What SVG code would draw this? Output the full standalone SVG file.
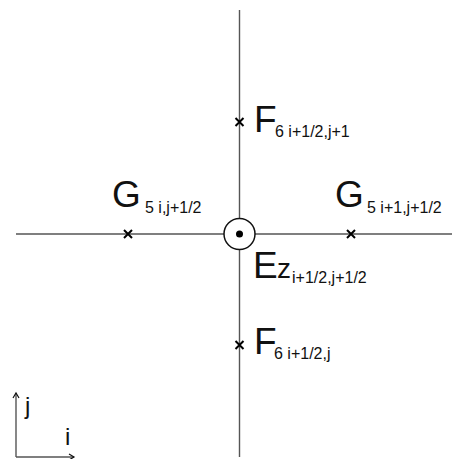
<svg xmlns="http://www.w3.org/2000/svg" width="454" height="459" viewBox="0 0 454 459">
<style>
.ax{stroke:#555;stroke-width:1.4;fill:none}
.cr{stroke:#000;stroke-width:2;fill:none}
.big{font-family:"Liberation Sans",Arial,sans-serif;font-size:37px;fill:#111}
.sub{font-family:"Liberation Sans",Arial,sans-serif;font-size:16px;fill:#111}
.lab{font-family:"Liberation Sans",Arial,sans-serif;font-size:24px;fill:#111}
</style>
<defs>
<marker id="ah" markerWidth="8" markerHeight="8" refX="6" refY="4" orient="auto" markerUnits="userSpaceOnUse">
<path d="M1,1 L6,4 L1,7" fill="none" stroke="#111" stroke-width="1.2"/>
</marker>
</defs>
<g id="connectors">
<line class="ax" x1="239.5" y1="10" x2="239.5" y2="457"/>
<line class="ax" x1="16" y1="234" x2="452" y2="234"/>
<line class="ax" x1="16" y1="457" x2="16" y2="393" marker-end="url(#ah)" stroke="#111"/>
<line class="ax" x1="16" y1="457" x2="74" y2="457" marker-end="url(#ah)" stroke="#111"/>
</g>
<g id="Ez">
<circle cx="239.5" cy="234" r="15.5" fill="#fff" stroke="#111" stroke-width="1.5"/>
<circle cx="239.5" cy="234" r="3.5" fill="#000"/>
<text class="big" x="253" y="278">E</text>
<text x="277" y="278" font-family="Liberation Sans,Arial,sans-serif" font-size="28" fill="#111">z</text>
<text class="sub" x="292" y="283">i+1/2,j+1/2</text>
</g>
<g id="F_top">
<path class="cr" d="M235.5,118 L243.5,126 M243.5,118 L235.5,126"/>
<text class="big" x="254" y="132">F</text>
<text class="sub" x="275" y="137">6 i+1/2,j+1</text>
</g>
<g id="F_bottom">
<path class="cr" d="M235.5,341 L243.5,349 M243.5,341 L235.5,349"/>
<text class="big" x="254" y="354">F</text>
<text class="sub" x="274" y="359">6 i+1/2,j</text>
</g>
<g id="G_left">
<path class="cr" d="M124,230 L132,238 M132,230 L124,238"/>
<text class="big" x="112" y="207">G</text>
<text class="sub" x="145" y="213">5 i,j+1/2</text>
</g>
<g id="G_right">
<path class="cr" d="M347,230 L355,238 M355,230 L347,238"/>
<text class="big" x="335" y="207">G</text>
<text class="sub" x="367" y="213">5 i+1,j+1/2</text>
</g>
<g id="axes_labels">
<text class="lab" x="25" y="414">j</text>
<text class="lab" x="65" y="445">i</text>
</g>
</svg>
